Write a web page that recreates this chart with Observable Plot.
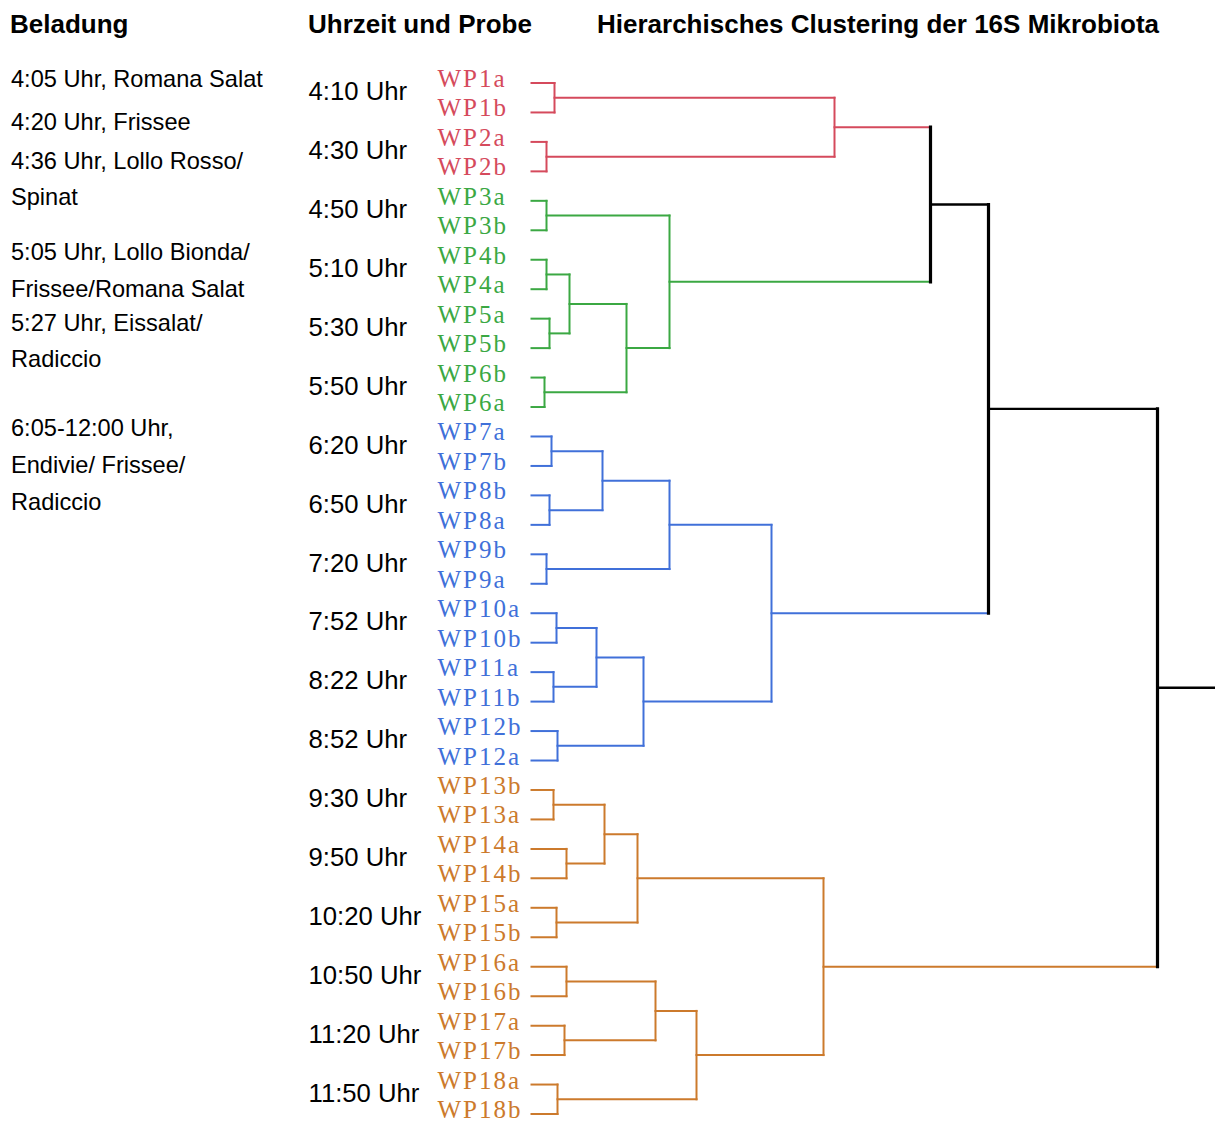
<!DOCTYPE html>
<html>
<head>
<meta charset="utf-8">
<script src="https://cdn.jsdelivr.net/npm/d3@7"></script>
<script src="https://cdn.jsdelivr.net/npm/@observablehq/plot@0.6"></script>
<style>
  html, body { margin: 0; padding: 0; background: #fff; }
  #wrap { position: relative; width: 1215px; height: 1124px; overflow: hidden; }
  #chart { position: absolute; left: 0; top: 0; }
  .hdr { position: absolute; font-family: "Liberation Sans", Arial, sans-serif; font-weight: bold;
         font-size: 26px; line-height: 26px; white-space: nowrap; color: #000; }
  .note { position: absolute; font-family: "Liberation Sans", Arial, sans-serif;
          font-size: 23.6px; line-height: 24px; white-space: nowrap; color: #000; }
</style>
</head>
<body>
<div id="wrap"><div id="chart"></div></div>
<script>
// ---------- data ----------
const headers = ["Beladung", "Uhrzeit und Probe", "Hierarchisches Clustering der 16S Mikrobiota"];

const notes = [
  "4:05 Uhr, Romana Salat",
  "4:20 Uhr, Frissee",
  "4:36 Uhr, Lollo Rosso/",
  "Spinat",
  "5:05 Uhr, Lollo Bionda/",
  "Frissee/Romana Salat",
  "5:27 Uhr, Eissalat/",
  "Radiccio",
  "6:05-12:00 Uhr,",
  "Endivie/ Frissee/",
  "Radiccio"
];

const times = ["4:10 Uhr","4:30 Uhr","4:50 Uhr","5:10 Uhr","5:30 Uhr","5:50 Uhr",
  "6:20 Uhr","6:50 Uhr","7:20 Uhr","7:52 Uhr","8:22 Uhr","8:52 Uhr",
  "9:30 Uhr","9:50 Uhr","10:20 Uhr","10:50 Uhr","11:20 Uhr","11:50 Uhr"];

const leaves = ["WP1a","WP1b","WP2a","WP2b","WP3a","WP3b","WP4b","WP4a","WP5a","WP5b","WP6b","WP6a",
  "WP7a","WP7b","WP8b","WP8a","WP9b","WP9a","WP10a","WP10b","WP11a","WP11b","WP12b","WP12a",
  "WP13b","WP13a","WP14a","WP14b","WP15a","WP15b","WP16a","WP16b","WP17a","WP17b","WP18a","WP18b"];

const clusterNames = ["rot", "grün", "blau", "orange"];
const clusterSizes = [4, 8, 12, 12];
const clusterColors = ["#d54a5c", "#3ba843", "#4070d9", "#cc7a2c"];

// merges: [id, left child, right child, distance]
const merges = [
  ["m1", "WP1a", "WP1b", 0.23],
  ["m2", "WP2a", "WP2b", 0.15],
  ["mRed", "m1", "m2", 3.03],
  ["m3", "WP3a", "WP3b", 0.15],
  ["m4", "WP4b", "WP4a", 0.15],
  ["m5", "WP5a", "WP5b", 0.18],
  ["m45", "m4", "m5", 0.38],
  ["m6", "WP6b", "WP6a", 0.13],
  ["m456", "m45", "m6", 0.95],
  ["mGreen", "m3", "m456", 1.38],
  ["m7", "WP7a", "WP7b", 0.20],
  ["m8", "WP8b", "WP8a", 0.18],
  ["m78", "m7", "m8", 0.71],
  ["m9", "WP9b", "WP9a", 0.15],
  ["m789", "m78", "m9", 1.38],
  ["m10", "WP10a", "WP10b", 0.25],
  ["m11", "WP11a", "WP11b", 0.22],
  ["m1011", "m10", "m11", 0.65],
  ["m12", "WP12b", "WP12a", 0.26],
  ["m1012", "m1011", "m12", 1.12],
  ["mBlue", "m789", "m1012", 2.40],
  ["m13", "WP13b", "WP13a", 0.22],
  ["m14", "WP14a", "WP14b", 0.35],
  ["m1314", "m13", "m14", 0.73],
  ["m15", "WP15a", "WP15b", 0.25],
  ["m1315", "m1314", "m15", 1.06],
  ["m16", "WP16a", "WP16b", 0.35],
  ["m17", "WP17a", "WP17b", 0.33],
  ["m1617", "m16", "m17", 1.24],
  ["m18", "WP18a", "WP18b", 0.26],
  ["m1618", "m1617", "m18", 1.65],
  ["mOrange", "m1315", "m1618", 2.92],
  ["mRG", "mRed", "mGreen", 3.99],
  ["mRGB", "mRG", "mBlue", 4.57],
  ["mRoot", "mRGB", "mOrange", 6.26]
];
const rootEnd = 6.84;

// ---------- derived tree layout ----------
const nodes = new Map();
let idx = 0;
clusterSizes.forEach((n, c) => {
  for (let k = 0; k < n; k++, idx++) {
    nodes.set(leaves[idx], {y: idx, h: 0, cluster: clusterNames[c]});
  }
});
const segs = [];
for (const [id, a, b, h] of merges) {
  const A = nodes.get(a), B = nodes.get(b);
  const cluster = A.cluster === B.cluster ? A.cluster : "schwarz";
  nodes.set(id, {y: (A.y + B.y) / 2, h, cluster});
  segs.push({x1: A.h, x2: h, y1: A.y, y2: A.y, c: A.cluster, kind: "h"});
  segs.push({x1: B.h, x2: h, y1: B.y, y2: B.y, c: B.cluster, kind: "h"});
  segs.push({x1: h, x2: h, y1: A.y, y2: B.y, c: cluster, kind: "v"});
}
const root = nodes.get("mRoot");
segs.push({x1: root.h, x2: rootEnd, y1: root.y, y2: root.y, c: "schwarz", kind: "h"});

const leafRows = leaves.map(name => ({name, y: nodes.get(name).y, c: nodes.get(name).cluster}));
const timeRows = times.map((t, i) => ({t, y: 2 * i + 0.5}));

const colored = segs.filter(d => d.c !== "schwarz");
const blackH = segs.filter(d => d.c === "schwarz" && d.kind === "h");
const blackV = segs.filter(d => d.c === "schwarz" && d.kind === "v");

const colorScale = {domain: [...clusterNames, "schwarz"], range: [...clusterColors, "#000000"]};

const chart = Plot.plot({
  width: 1215,
  height: 1124,
  marginLeft: 531,
  marginRight: 0,
  marginTop: 82.5,
  marginBottom: 10.5,
  x: {domain: [0, rootEnd], axis: null},
  y: {domain: [0, leaves.length - 1], axis: null, reverse: true},
  color: colorScale,
  style: {background: "white", overflow: "visible"},
  marks: [
    Plot.link(colored, {x1: "x1", y1: "y1", x2: "x2", y2: "y2", stroke: "c", strokeWidth: 2, strokeLinecap: "square"}),
    Plot.link(blackH, {x1: "x1", y1: "y1", x2: "x2", y2: "y2", stroke: "c", strokeWidth: 2.4, strokeLinecap: "butt"}),
    Plot.link(blackV, {x1: "x1", y1: "y1", x2: "x2", y2: "y2", stroke: "c", strokeWidth: 3.2, strokeLinecap: "square"}),
    Plot.text(leafRows, {y: "y", text: "name", fill: "c", frameAnchor: "left", textAnchor: "start",
      lineAnchor: "bottom", dx: -94, dy: 4, fontSize: 25,
      fontFamily: "'Liberation Serif', 'Times New Roman', serif"}),
    Plot.text(timeRows, {y: "y", text: "t", fill: "black", frameAnchor: "left", textAnchor: "start",
      lineAnchor: "bottom", dx: -223, dy: 2.5, fontSize: 25.7,
      fontFamily: "'Liberation Sans', Arial, sans-serif"})
  ]
});
// spaced lettering for the serif sample labels, as in the reference
d3.select(chart).selectAll("g[aria-label='text']").each(function () {
  if ((this.getAttribute("font-family") || "").includes("Serif")) this.setAttribute("letter-spacing", "2");
});
document.getElementById("chart").appendChild(chart);

// ---------- headers and notes (HTML overlays) ----------
const wrap = document.getElementById("wrap");
const headerX = [10, 308, 597];
headers.forEach((h, i) => {
  const d = document.createElement("div");
  d.className = "hdr";
  d.textContent = h;
  d.style.left = headerX[i] + "px";
  d.style.top = (33 - 22) + "px";
  wrap.appendChild(d);
});
const noteBaselines = [87, 130, 169, 205, 260, 297, 331, 367, 436, 473, 510];
notes.forEach((n, i) => {
  const d = document.createElement("div");
  d.className = "note";
  d.textContent = n;
  d.style.left = "11px";
  d.style.top = (noteBaselines[i] - 20.2) + "px";
  wrap.appendChild(d);
});
</script>
</body>
</html>
